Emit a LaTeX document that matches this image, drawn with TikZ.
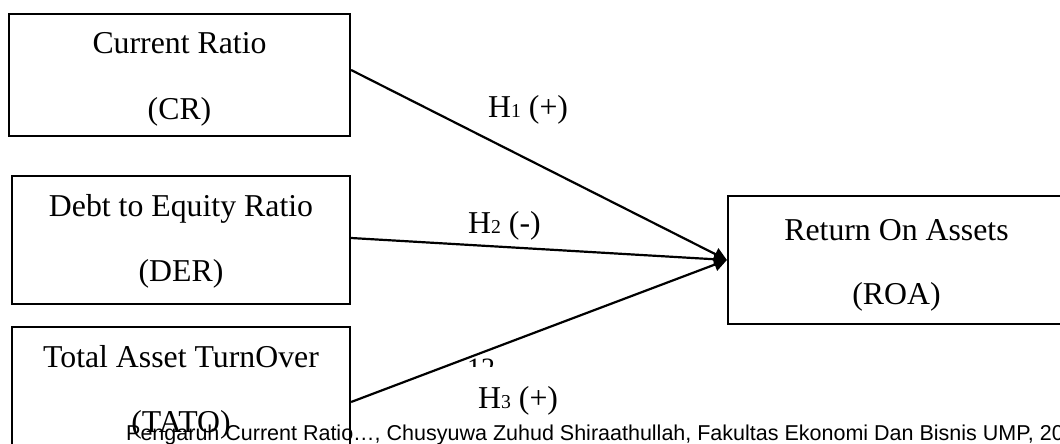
\documentclass[tikz,border=0pt]{standalone}
\usepackage{fontspec}
\setmainfont{Liberation Serif}
\newfontfamily\footfont{Liberation Sans}
\usetikzlibrary{arrows.meta}
\begin{document}
\begin{tikzpicture}[x=1pt,y=-1pt,
  varbox/.style={draw, line width=2.2pt, rectangle, inner sep=0pt},
  boxtext/.style={anchor=base, inner sep=0pt, font=\fontsize{31.8}{38}\selectfont},
  hyp/.style={anchor=base, inner sep=0pt, font=\fontsize{31.8}{38}\selectfont},
  path/.style={line width=2.2pt, -{Triangle[length=13pt,width=13pt]}},
  foot/.style={anchor=base west, inner sep=0pt, font=\footfont\fontsize{21.5}{25}\selectfont}]
\newcommand{\hsub}[1]{{\fontsize{19.7}{24}\selectfont #1}}
\useasboundingbox (0,0) rectangle (1060,444);
\clip (0,0) rectangle (1060,444);

% independent variables
\node[varbox, minimum width=341pt, minimum height=122pt] (cr) at (179.5,75) {};
\node[boxtext] (cr1) at (179.5,54) {Current Ratio};
\node[boxtext] (cr2) at (179.5,119) {(CR)};

\node[varbox, minimum width=338pt, minimum height=128pt] (der) at (181,240) {};
\node[boxtext] (der1) at (181,216) {Debt to Equity Ratio};
\node[boxtext] (der2) at (181,281) {(DER)};

\node[varbox, minimum width=338pt, minimum height=150pt] (tato) at (181,402) {};
\node[boxtext] (tato1) at (181,367) {Total Asset TurnOver};
\node[boxtext] (tato2) at (181,432) {(TATO)};

% dependent variable
\node[varbox, minimum width=337pt, minimum height=128pt] (roa) at (896.5,260) {};
\node[boxtext] (roa1) at (896.5,240) {Return On Assets};
\node[boxtext] (roa2) at (896.5,304) {(ROA)};

% page number, partly covered
\node[anchor=base, inner sep=0pt, font=\fontsize{28}{32}\selectfont] (pg) at (481,377) {12};
\fill[white] (455,367) rectangle (510,384);

% hypothesis paths
\draw[path] ([yshift=5pt]cr.east) -- (roa.west);
\draw[path] ([yshift=2pt]der.east) -- (roa.west);
\draw[path] (tato.east) -- (roa.west);

\node[hyp, anchor=base west] (h1) at (488,117) {H\hsub{1} (+)};
\node[hyp, anchor=base west] (h2) at (468,233) {H\hsub{2} (-)};
\node[hyp, anchor=base west] (h3) at (478,408) {H\hsub{3} (+)};

% running footer
\node[foot] (ft) at (126,440) {Pengaruh Current Ratio…, Chusyuwa Zuhud Shiraathullah, Fakultas Ekonomi Dan Bisnis UMP, 2020};
\end{tikzpicture}
\end{document}
